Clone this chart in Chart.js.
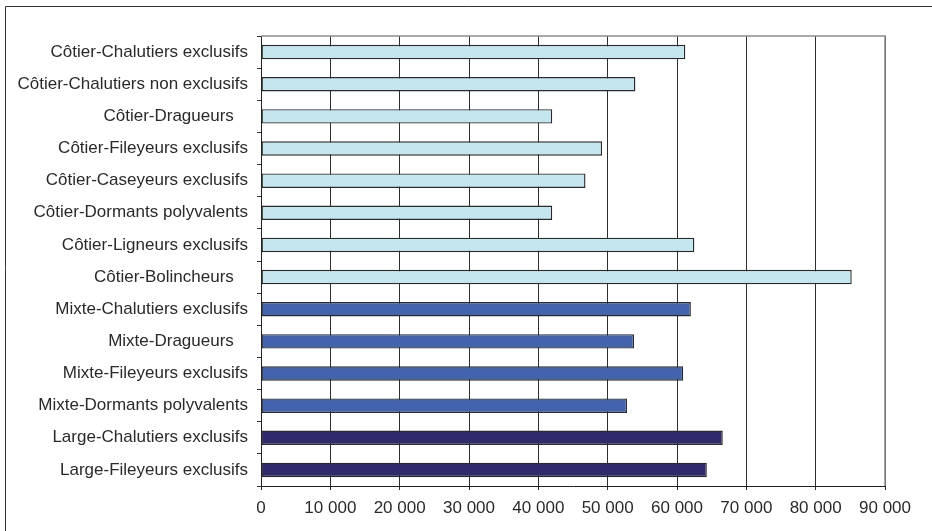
<!DOCTYPE html>
<html>
<head>
<meta charset="utf-8">
<script src="https://cdn.jsdelivr.net/npm/chart.js@4/dist/chart.umd.min.js"></script>
<style>
  html, body { margin: 0; padding: 0; background: #fff; }
  #wrap { width: 932px; height: 531px; position: relative; }
</style>
</head>
<body>
<div id="wrap"><canvas id="fleetChart" width="932" height="531"></canvas></div>
<script>
//DATA BLOCK
const categories = [
    'Côtier-Chalutiers exclusifs',
    'Côtier-Chalutiers non exclusifs',
    'Côtier-Dragueurs   ',
    'Côtier-Fileyeurs exclusifs',
    'Côtier-Caseyeurs exclusifs',
    'Côtier-Dormants polyvalents',
    'Côtier-Ligneurs exclusifs',
    'Côtier-Bolincheurs   ',
    'Mixte-Chalutiers exclusifs',
    'Mixte-Dragueurs   ',
    'Mixte-Fileyeurs exclusifs',
    'Mixte-Dormants polyvalents',
    'Large-Chalutiers exclusifs',
    'Large-Fileyeurs exclusifs'
];
const values = [61200, 54000, 42000, 49200, 46800, 42000, 62500, 85200, 62000, 53800, 60900, 52800, 66600, 64300];
const segments = ['cotier', 'cotier', 'cotier', 'cotier', 'cotier', 'cotier', 'cotier', 'cotier',
    'mixte', 'mixte', 'mixte', 'mixte', 'large', 'large'];
const xTicks = [0, 10000, 20000, 30000, 40000, 50000, 60000, 70000, 80000, 90000];

const segmentColors = { cotier: '#c4e6ef', mixte: '#4264ae', large: '#2f2a6b' };

// extra lines: outer frame (top + left) and grey plot frame (top + right)
const framePlugin = {
    id: 'frame',
    afterDraw(chart) {
        const ctx = chart.ctx;
        const a = chart.chartArea;
        ctx.save();
        ctx.strokeStyle = '#333';
        ctx.lineWidth = 1;
        ctx.beginPath();
        ctx.moveTo(5.5, 531);
        ctx.lineTo(5.5, 6.5);
        ctx.lineTo(932, 6.5);
        ctx.stroke();
        ctx.strokeStyle = '#8c8c8c';
        ctx.lineWidth = 1.5;
        ctx.beginPath();
        ctx.moveTo(a.left, a.top);
        ctx.lineTo(a.right, a.top);
        ctx.lineTo(a.right, a.bottom);
        ctx.stroke();
        ctx.restore();
    }
};

//CONFIG BLOCK
const config = {
    type: 'bar',
    data: {
        labels: categories,
        datasets: [{
            data: values,
            backgroundColor: segments.map(s => segmentColors[s]),
            borderColor: '#2a2a2a',
            borderWidth: 1.4,
            borderSkipped: false,
            barPercentage: 0.45,
            categoryPercentage: 1
        }]
    },
    options: {
        indexAxis: 'y',
        responsive: false,
        animation: false,
        layout: { padding: { top: 36, right: 47, bottom: 0, left: 0 } },
        plugins: {
            legend: { display: false },
            tooltip: { enabled: false }
        },
        scales: {
            x: {
                min: 0,
                max: 90000,
                afterBuildTicks: scale => { scale.ticks = xTicks.map(v => ({ value: v })); },
                afterFit: scale => { scale.height = 45; },
                ticks: {
                    color: '#2a2a2a',
                    padding: 8,
                    font: { family: '"Liberation Sans", Arial, sans-serif', size: 17 },
                    callback: v => v === 0 ? '0' : String(v / 1000) + ' 000'
                },
                grid: { color: '#2e2e2e', lineWidth: 1, tickLength: 4, drawTicks: true },
                border: { color: '#222', width: 1 }
            },
            y: {
                afterFit: scale => { scale.width = 261; },
                ticks: {
                    color: '#2a2a2a',
                    padding: 9,
                    font: { family: '"Liberation Sans", Arial, sans-serif', size: 17 }
                },
                grid: { drawOnChartArea: false, color: '#333', tickLength: 4, offset: true },
                border: { color: '#222', width: 1 }
            }
        }
    },
    plugins: [framePlugin]
};

// RENDER BLOCK
const fleetChart = new Chart(document.getElementById('fleetChart'), config);
</script>
</body>
</html>
